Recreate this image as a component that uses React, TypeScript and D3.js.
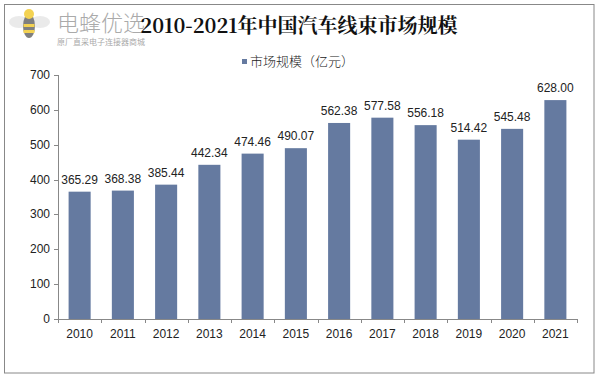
import React from "react";
import * as d3 from "d3";

const years = ["2010","2011","2012","2013","2014","2015","2016","2017","2018","2019","2020","2021"];
const values = [365.29, 368.38, 385.44, 442.34, 474.46, 490.07, 562.38, 577.58, 556.18, 514.42, 545.48, 628.00];
const yTicks = [0, 100, 200, 300, 400, 500, 600, 700];
const title = "2010-2021年中国汽车线束市场规模";
const legendLabel = "市场规模（亿元）";

export default function App() {
  const W = 599, H = 377;
  const left = 58, right = 577, top = 75, bottom = 319;
  const x = d3.scaleBand<string>().domain(years).range([left, right]).paddingInner(0.49).paddingOuter(0.245);
  const y = d3.scaleLinear().domain([0, 700]).range([bottom, top]);
  const step = (right - left) / years.length;
  const barColor = "#657AA0";
  const font = "Arial, 'Liberation Sans', sans-serif";

  return (
    <svg width={W} height={H} style={{ position: "absolute", left: 0, top: 0 }}>
      <rect x={0} y={0} width={W} height={H} fill="#fff" />
      <rect x={4.5} y={4.5} width={589.5} height={368.5} fill="none" stroke="#888" strokeWidth={1} />
      {/* watermark */}
      <g opacity={0.75}>
        <ellipse cx={19} cy={22} rx={10} ry={6} fill="#e4e4e4" />
        <ellipse cx={40} cy={22} rx={10} ry={6} fill="#e4e4e4" />
        <ellipse cx={29} cy={26} rx={6} ry={12} fill="#555" />
        <rect x={23.5} y={24} width={11} height={3} fill="#f0c419" />
        <rect x={23.5} y={30} width={11} height={3} fill="#f0c419" />
        <circle cx={29} cy={14} r={5} fill="#f0c419" />
      </g>
      <text x={57} y={31} fontSize={22} fill="#aaa" fontFamily="'Noto Sans CJK SC', sans-serif" fontWeight={300}>电蜂优选</text>
      <text x={57} y={45} fontSize={8} fill="#aaa" fontFamily="'Noto Sans CJK SC', sans-serif">原厂直采电子连接器商城</text>
      {/* title */}
      <text x={299} y={33} textAnchor="middle" fontSize={20} fontWeight="bold" fill="#111"
        fontFamily="'Noto Serif CJK SC', 'Noto Sans CJK SC', serif">{title}</text>
      {/* legend */}
      <rect x={242} y={59} width={5} height={5} fill={barColor} />
      <text x={250} y={66} fontSize={13} fill="#222" fontFamily="'Noto Sans CJK SC', sans-serif" fontWeight={300}>{legendLabel}</text>
      {/* y axis */}
      <line x1={left + 0.5} x2={left + 0.5} y1={top} y2={bottom} stroke="#888" />
      {yTicks.map(t => (
        <g key={t}>
          <line x1={left - 4} x2={left} y1={Math.round(y(t)) + 0.5} y2={Math.round(y(t)) + 0.5} stroke="#888" />
          <text x={left - 8} y={y(t) + 4} textAnchor="end" fontSize={12} fill="#222" fontFamily={font}>{t}</text>
        </g>
      ))}
      {/* bars */}
      {years.map((yr, i) => (
        <g key={yr}>
          <rect x={x(yr)} y={y(values[i])} width={x.bandwidth()} height={bottom - y(values[i])} fill={barColor} />
          <text x={(x(yr) as number) + x.bandwidth() / 2} y={y(values[i]) - 8} textAnchor="middle" fontSize={12} fill="#222" fontFamily={font}>{values[i].toFixed(2)}</text>
          <text x={left + step * (i + 0.5)} y={bottom + 19} textAnchor="middle" fontSize={12} fill="#222" fontFamily={font}>{yr}</text>
        </g>
      ))}
      {/* x axis */}
      <line x1={left} x2={right} y1={bottom + 0.5} y2={bottom + 0.5} stroke="#888" />
      {d3.range(years.length + 1).map(i => (
        <line key={i} x1={Math.round(left + step * i) + 0.5} x2={Math.round(left + step * i) + 0.5} y1={bottom} y2={bottom + 4} stroke="#888" />
      ))}
    </svg>
  );
}
